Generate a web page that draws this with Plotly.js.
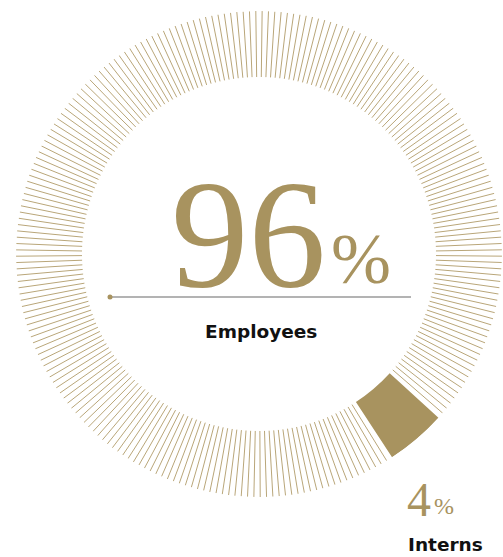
<!DOCTYPE html>
<html>
<head>
<meta charset="utf-8">
<script src="https://cdn.plot.ly/plotly-3.0.1.min.js"></script>
<style>html,body{margin:0;padding:0;background:#fff;}#chart{width:503px;height:557px;}</style>
</head>
<body>
<div id="chart"></div>
<script>
// ---- data ----
const categories = ["Employees", "Interns"];
const shares = [96, 4];               // percent
const valueLabels = ["96", "4"];
const percentSign = "%";

// ---- style constants ----
const W = 503, H = 557;
const cx = 259, cy = 254, rOuter = 243, rInner = 177;
const gold = "#a8935f";
const lineGold = "#b9a679";
const tickCount = 240;               // radial hairlines for full circle
const wedgeStart = 42.4;             // degrees clockwise from east

const internsWidth = shares[1] / 100 * 360;
const wedgeEnd = wedgeStart + internsWidth;
const wedgeCenter = wedgeStart + internsWidth / 2;

// hairlines for Employees share
const th = [], rr = [];
const empSpan = shares[0] / 100 * 360;
const nLines = Math.round(shares[0] / 100 * tickCount);
const sp = empSpan / (nLines + 1);
for (let k = 1; k <= nLines; k++) {
  const a = wedgeEnd + k * sp;
  th.push(a, a, null);
  rr.push(rInner, rOuter, null);
}

const traces = [
  {
    type: "scatterpolar", mode: "lines", r: rr, theta: th,
    line: {color: lineGold, width: 1}, hoverinfo: "skip", name: categories[0], connectgaps: false
  },
  {
    type: "barpolar", r: [rOuter - rInner], base: [rInner], theta: [wedgeCenter], width: [internsWidth],
    marker: {color: gold, line: {width: 0}}, name: categories[1], hoverinfo: "skip"
  }
];

const px = x => x / W, py = y => 1 - y / H;
const labelFont = {family: "DejaVu Sans", size: 18.5, color: "#111", weight: 700};

const layout = {
  width: W, height: H,
  margin: {l: 0, r: 0, t: 0, b: 0},
  paper_bgcolor: "#fff",
  showlegend: false,
  polar: {
    domain: {x: [px(cx - rOuter), px(cx + rOuter)], y: [py(cy + rOuter), py(cy - rOuter)]},
    bgcolor: "rgba(0,0,0,0)",
    bargap: 0,
    radialaxis: {visible: false, range: [0, rOuter]},
    angularaxis: {visible: false, direction: "clockwise", rotation: 0}
  },
  shapes: [
    {type: "line", xref: "paper", yref: "paper", x0: px(110), x1: px(411), y0: py(297), y1: py(297),
     line: {color: "#9a9a9a", width: 1.5}},
    {type: "circle", xref: "paper", yref: "paper", x0: px(107.5), x1: px(112.5), y0: py(299.5), y1: py(294.5),
     fillcolor: gold, line: {width: 0}}
  ],
  annotations: [
    {xref: "paper", yref: "paper", x: px(248), y: py(234), xanchor: "center", yanchor: "middle", showarrow: false,
     text: valueLabels[0], font: {family: "Liberation Serif", size: 155, color: gold}},
    {xref: "paper", yref: "paper", x: px(361), y: py(259), xanchor: "center", yanchor: "middle", showarrow: false,
     text: percentSign, font: {family: "Liberation Serif", size: 72, color: gold}},
    {xref: "paper", yref: "paper", x: px(261), y: py(331), xanchor: "center", yanchor: "middle", showarrow: false,
     text: categories[0], font: labelFont},
    {xref: "paper", yref: "paper", x: px(419), y: py(499), xanchor: "center", yanchor: "middle", showarrow: false,
     text: valueLabels[1], font: {family: "Liberation Serif", size: 48, color: gold}},
    {xref: "paper", yref: "paper", x: px(444), y: py(506), xanchor: "center", yanchor: "middle", showarrow: false,
     text: percentSign, font: {family: "Liberation Serif", size: 24, color: gold}},
    {xref: "paper", yref: "paper", x: px(445), y: py(544), xanchor: "center", yanchor: "middle", showarrow: false,
     text: categories[1], font: labelFont}
  ]
};

Plotly.newPlot("chart", traces, layout, {displayModeBar: false, staticPlot: true});
</script>
</body>
</html>
